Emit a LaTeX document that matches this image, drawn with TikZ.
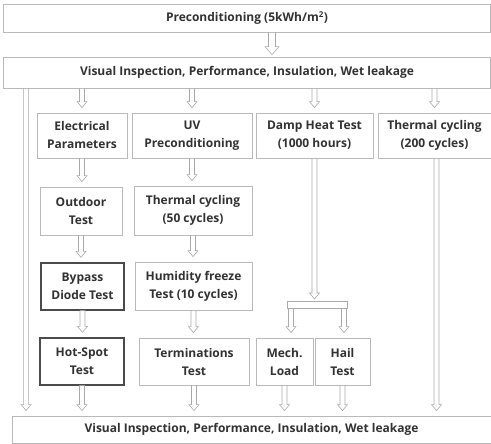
\documentclass[tikz,border=0pt]{standalone}
\usepackage{fontspec}
\setmainfont{Open Sans}
\usetikzlibrary{calc,shadows}
\definecolor{boxgray}{RGB}{185,185,185}
\definecolor{arrgray}{RGB}{170,170,170}
\definecolor{txtgray}{RGB}{50,50,50}
\definecolor{darkborder}{RGB}{75,75,75}
\begin{document}
\begin{tikzpicture}[x=1pt,y=-1pt,
  box/.style={draw=boxgray, line width=0.8pt, fill=white, align=center,
    text=txtgray, font=\fontsize{12}{18}\selectfont\bfseries, inner sep=0pt,
    general shadow={shadow xshift=1.2pt, shadow yshift=-1.2pt, fill=black!12}},
  darkbox/.style={box, draw=darkborder, line width=1.3pt},
  harrow/.style={draw=arrgray, fill=white, line width=0.6pt,
    to path={let \p1=(\tikztostart), \p2=(\tikztotarget) in
      (\x1-2.5pt,\y1) -- (\x1-2.5pt,\y2+11pt) -- (\x1-5pt,\y2+11pt) -- (\x1,\y2+5pt)
      -- (\x1+5pt,\y2+11pt) -- (\x1+2.5pt,\y2+11pt) -- (\x1+2.5pt,\y1) -- cycle}},
  bigarrow/.style={draw=arrgray, fill=white, line width=0.6pt,
    to path={let \p1=(\tikztostart), \p2=(\tikztotarget) in
      (\x1-3.5pt,\y1) -- (\x1-3.5pt,\y2+10pt) -- (\x1-7pt,\y2+10pt) -- (\x1,\y2+2pt)
      -- (\x1+7pt,\y2+10pt) -- (\x1+3.5pt,\y2+10pt) -- (\x1+3.5pt,\y1) -- cycle}}
]
\useasboundingbox (0,0) rectangle (491,444);

\node[box, minimum width=487pt, minimum height=28pt] (pre) at (247,18) {Preconditioning (5kWh/m\textsuperscript{2})};
\node[box, minimum width=487pt, minimum height=31pt] (vis1) at (247,72.5) {Visual Inspection, Performance, Insulation, Wet leakage};

\node[box, minimum width=90pt, minimum height=45pt] (elec) at (82,135.5) {Electrical\\Parameters};
\node[box, minimum width=120pt, minimum height=45pt] (uv) at (192,135.5) {UV\\Preconditioning};
\node[box, minimum width=117pt, minimum height=45pt] (damp) at (314.5,135.5) {Damp Heat Test\\(1000 hours)};
\node[box, minimum width=113pt, minimum height=45pt] (th200) at (434.5,135.5) {Thermal cycling\\(200 cycles)};

\node[box, minimum width=82pt, minimum height=48pt] (out) at (81,211) {Outdoor\\Test};
\node[box, minimum width=118pt, minimum height=49pt] (th50) at (193,210.5) {Thermal cycling\\(50 cycles)};

\node[darkbox, minimum width=83pt, minimum height=47pt] (byp) at (82.5,286.5) {Bypass\\Diode Test};
\node[box, minimum width=117pt, minimum height=48pt] (hum) at (193.5,286) {Humidity freeze\\Test (10 cycles)};

\node[darkbox, minimum width=84pt, minimum height=47pt] (hot) at (82,361.5) {Hot-Spot\\Test};
\node[box, minimum width=110pt, minimum height=47pt] (term) at (194,361.5) {Terminations\\Test};
\node[box, minimum width=57pt, minimum height=47pt] (mech) at (284.5,361.5) {Mech.\\Load};
\node[box, minimum width=55pt, minimum height=47pt] (hail) at (342.5,361.5) {Hail\\Test};

\node[box, minimum width=479pt, minimum height=27pt] (vis2) at (251.5,429.5) {Visual Inspection, Performance, Insulation, Wet leakage};

% arrows
\coordinate (pa) at ([xshift=25pt]pre.south);
\draw[bigarrow] (pa) to (pa |- vis1.north);

\foreach \nm in {elec,uv,damp,th200}
  \draw[harrow] (\nm.north |- vis1.south) to (\nm.north);

\draw[harrow] (elec.south) to (out.north);
\draw[harrow] (uv.south) to (th50.north);
\draw[harrow] (out.south) to (byp.north);
\draw[harrow] (th50.south) to (hum.north);
\draw[harrow] (byp.south) to (hot.north);
\draw[harrow] (hum.south) to (term.north);

\coordinate (ls) at ([xshift=23pt]vis1.south west);
\draw[harrow] (ls) to (ls |- vis2.north);
\draw[harrow] ([xshift=2pt]th200.south) to ([xshift=2pt]th200.south |- vis2.north);

% damp heat bracket
\coordinate (bartop) at (317,301);
\coordinate (lm) at (291,308);
\coordinate (lh) at (344,308);
\draw[harrow] (damp.south) to ([yshift=-3pt]damp.south |- bartop);
\draw[harrow] (lm) to (lm |- mech.north);
\draw[harrow] (lh) to (lh |- hail.north);
\draw[draw=arrgray, fill=white, line width=0.6pt] (287,301) rectangle (347,308);

\foreach \nm in {hot,term,mech,hail}
  \draw[harrow] (\nm.south) to (\nm.south |- vis2.north);
\end{tikzpicture}
\end{document}
